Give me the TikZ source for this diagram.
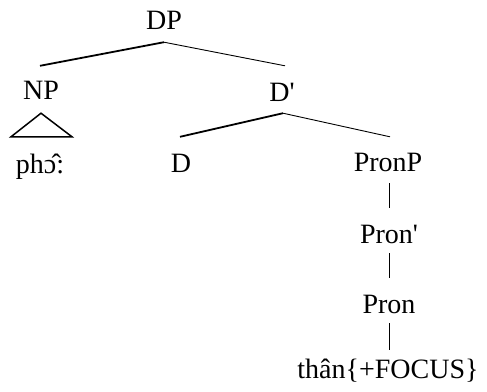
\documentclass[tikz,border=0pt]{standalone}
\usepackage{fontspec}
\setmainfont{Liberation Serif}
\begin{document}
\begin{tikzpicture}[x=1pt,y=-1pt,
  lbl/.style={inner sep=0pt,anchor=base,text height=19pt,text depth=0pt,
              font=\fontsize{28}{32}\selectfont},
  heavy/.style={line width=1.8pt},
  light/.style={line width=0.9pt},
  bar/.style={line width=1pt}]
  \useasboundingbox (0,0) rectangle (487,391);

  % labels, placed by their baselines
  \node[lbl] (DP)    at (164,29)  {DP};
  \node[lbl] (NP)    at (41,99)   {NP};
  \node[lbl] (Dbar)  at (282,101) {D\textquotesingle};
  \node[lbl] (pho)   at (40,173)  {ph\^{ɔ}:};
  \node[lbl] (D)     at (181,172) {D};
  \node[lbl] (PronP) at (388,171) {PronP};
  \node[lbl] (Pronb) at (389,243) {Pron\textquotesingle};
  \node[lbl] (Pron)  at (389,313) {Pron};
  \node[lbl] (than)  at (388,378) {thân\{+FOCUS\}};

  % branches
  \draw[heavy] ([yshift=-13pt]DP.south) -- ([xshift=-1pt,yshift=14pt]NP.north);
  \draw[light] ([yshift=-13pt]DP.south) -- ([xshift=3pt,yshift=16pt]Dbar.north);
  \draw[heavy] ([xshift=1pt,yshift=-12pt]Dbar.south) -- ([xshift=-1pt,yshift=16pt]D.north);
  \draw[light] ([xshift=1pt,yshift=-12pt]Dbar.south) -- ([xshift=2pt,yshift=15pt]PronP.north);

  % roof over the NP
  \draw[line width=1.5pt,line join=miter]
    ([yshift=-14pt]NP.south) -- ([xshift=-29pt,yshift=17pt]pho.north)
    -- ([xshift=32pt,yshift=17pt]pho.north) -- cycle;

  % unary projections
  \draw[bar] ([xshift=1pt,yshift=-12pt]PronP.south) -- ([yshift=16pt]Pronb.north);
  \draw[bar] ([yshift=-10pt]Pronb.south) -- ([yshift=16pt]Pron.north);
  \draw[bar] ([yshift=-10pt]Pron.south) -- ([xshift=1pt,yshift=9pt]than.north);
\end{tikzpicture}
\end{document}
